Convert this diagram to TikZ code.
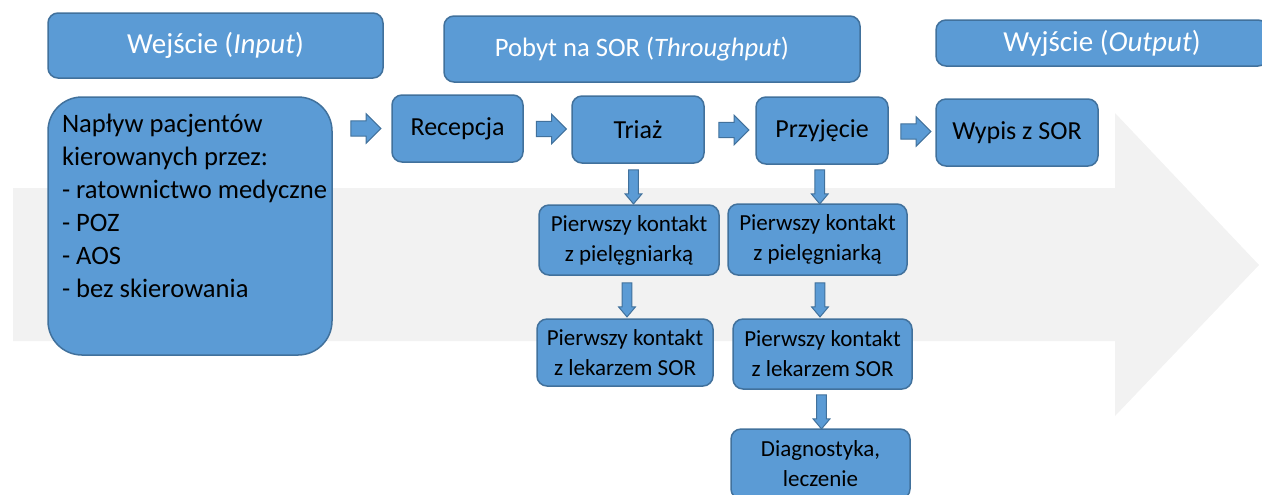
\documentclass[tikz,border=0pt]{standalone}
\usepackage{fontspec}
\setmainfont{Carlito}
\usetikzlibrary{shapes.arrows,calc}
\definecolor{boxfill}{RGB}{91,155,213}
\definecolor{boxline}{RGB}{65,113,156}
\definecolor{flowbg}{RGB}{242,242,242}

\begin{document}
\begin{tikzpicture}[x=0.5pt, y=-0.5pt,
    blok/.style={draw=boxline, fill=boxfill, line width=0.75pt, rounded corners=5pt, inner sep=0pt, align=center},
    naglowek/.style={blok, text=white},
    etap/.style={blok, minimum height=33.5pt, font=\fontsize{13}{16}\selectfont},
    krok/.style={blok, font=\fontsize{11.5}{15}\selectfont},
    strzalka/.style={single arrow, draw=boxline, fill=boxfill, line width=0.5pt, inner sep=3.6pt,
      minimum width=14.5pt, minimum height=15pt, single arrow head extend=3.5pt},
    strzalkadol/.style={single arrow, shape border rotate=270, draw=boxline, fill=boxfill, line width=0.5pt, inner sep=2.2pt,
      minimum width=8pt, minimum height=17pt, single arrow head extend=1.75pt, single arrow tip angle=80}]
      \useasboundingbox (0,0) rectangle (1262,494);

      % Background arrow
      \fill[flowbg] (13,188) -- (1115,188) -- (1115,113) -- (1259,265) -- (1115,416) -- (1115,341) -- (13,341) -- cycle;

      % Headers
      \node[naglowek, minimum width=167.5pt, minimum height=32.5pt, font=\fontsize{14.5}{17}\selectfont] (wejscie) at (215.5,45.5) {Wejście (\textit{Input})};
      \node[naglowek, minimum width=208pt, minimum height=33pt, font=\fontsize{13.3}{16}\selectfont] (pobyt) at (652,49) {Pobyt na SOR (\textit{Throughput})\hspace*{10pt}};
      \node[naglowek, minimum width=166pt, minimum height=23pt, font=\fontsize{14.5}{17}\selectfont] (wyjscie) at (1102,43) {Wyjście (\textit{Output})};

      % Input
      \node[blok, rounded corners=17pt, inner ysep=8.5pt, font=\fontsize{13.3}{16.5}\selectfont] (naplyw) at (190,226)
        {\parbox[c][112pt][t]{142pt}{\raggedright\leftskip=7pt
          Napływ pacjentów\\
          kierowanych przez:\\
          - ratownictwo medyczne\\
          - POZ\\
          - AOS\\
          - bez skierowania}};

      % Main row
      \node[etap, minimum width=65.5pt] (recepcja) at (457.5,128.5) {Recepcja};
      \node[etap, minimum width=66pt] (triaz) at (638,129.5) {Triaż};
      \node[etap, minimum width=66pt] (przyjecie) at (822,130.5) {Przyjęcie};
      \node[etap, minimum width=81pt] (wypis) at (1017,132.5) {Wypis z SOR};

      % Lower steps
      \node[krok, minimum width=90pt, minimum height=35pt] (piel1) at (629,240) {Pierwszy kontakt\\z pielęgniarką};
      \node[krok, minimum width=88pt, minimum height=33.5pt] (lek1) at (625,352.5) {Pierwszy kontakt\\z lekarzem SOR};
      \node[krok, minimum width=89.5pt, minimum height=35.5pt] (piel2) at (817.5,239.5) {Pierwszy kontakt\\z pielęgniarką};
      \node[krok, minimum width=89.5pt, minimum height=35pt] (lek2) at (822.5,354) {Pierwszy kontakt\\z lekarzem SOR};
      \node[krok, minimum width=89.5pt, minimum height=35pt] (diag) at (820.5,464) {Diagnostyka,\\leczenie};

      % Arrows
      \node[strzalka] (s1) at ($(naplyw.east |- recepcja.west)!0.5!(recepcja.west)$) {};
      \node[strzalka] (s2) at ($(recepcja.east)!0.5!(triaz.west)$) {};
      \node[strzalka] (s3) at ($(triaz.east)!0.5!(przyjecie.west)$) {};
      \node[strzalka] (s4) at ($(przyjecie.east)!0.5!(wypis.west)$) {};
      \node[strzalkadol] (d1) at ($(triaz.south)!0.5!(piel1.north)$) {};
      \node[strzalkadol] (d2) at ($(piel1.south)!0.5!(lek1.north)$) {};
      \node[strzalkadol] (d3) at ($(przyjecie.south)!0.5!(piel2.north)$) {};
      \node[strzalkadol] (d4) at ($(piel2.south)!0.5!(lek2.north)$) {};
      \node[strzalkadol] (d5) at ($(lek2.south)!0.5!(diag.north)$) {};
    \end{tikzpicture}
\end{document}
